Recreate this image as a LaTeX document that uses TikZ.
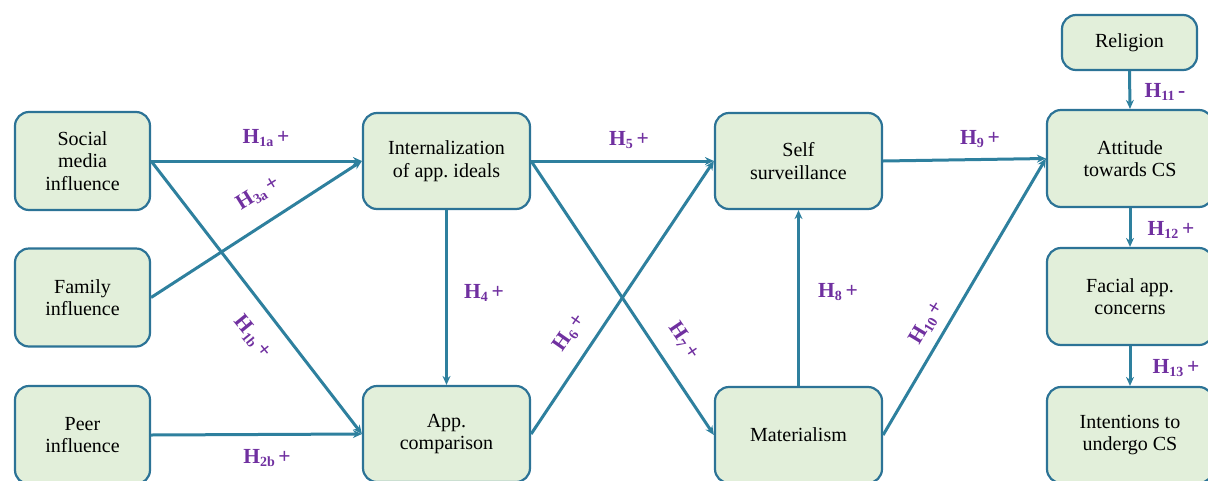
\documentclass[tikz,border=0pt]{standalone}
\usepackage{fontspec}
\setmainfont{Liberation Serif}
\usetikzlibrary{arrows.meta}
\frenchspacing
\definecolor{boxfill}{RGB}{226,239,218}
\definecolor{boxline}{RGB}{44,115,150}
\definecolor{arrowcol}{RGB}{46,128,158}
\definecolor{labcol}{RGB}{112,48,160}
\newcommand\hyp[2]{H\raisebox{-0.35ex}{\fontsize{14}{14}\selectfont #1}\,#2}
\tikzset{
  box/.style={draw=boxline, line width=2.2pt, fill=boxfill, rounded corners=14pt,
    align=center, font=\fontsize{20}{22.5}\selectfont, inner sep=0pt},
  conn/.style={draw=arrowcol, line width=3pt, -{Stealth[length=9pt,width=8pt]}},
  hlab/.style={text=labcol, font=\fontsize{21.5}{22}\selectfont\bfseries, inner sep=1pt}
}
\begin{document}
\begin{tikzpicture}[x=1pt,y=-1pt]
\useasboundingbox (0,0) rectangle (1208,480);
\clip (0,0) rectangle (1208,480);
% nodes
\node[box, minimum width=135pt, minimum height=98pt] (soc) at (82.5,161) {Social\\media\\influence};
\node[box, minimum width=135pt, minimum height=98pt] (fam) at (82.5,297.5) {Family\\influence};
\node[box, minimum width=135pt, minimum height=98pt] (peer) at (82.5,435) {Peer\\influence};
\node[box, minimum width=167pt, minimum height=96pt] (int) at (446.5,161) {Internalization\\of app. ideals};
\node[box, minimum width=167pt, minimum height=96pt] (app) at (446.5,434) {App.\\comparison};
\node[box, minimum width=167pt, minimum height=96pt] (self) at (798.5,161) {Self\\surveillance};
\node[box, minimum width=167pt, minimum height=96pt] (mat) at (798.5,435) {Materialism};
\node[box, minimum width=135pt, minimum height=55pt] (rel) at (1129.5,42.5) {Religion};
\node[box, minimum width=166pt, minimum height=97pt] (att) at (1130,158.5) {Attitude\\towards CS};
\node[box, minimum width=166pt, minimum height=97pt] (fac) at (1130,296.5) {Facial app.\\concerns};
\node[box, minimum width=166pt, minimum height=96pt] (intn) at (1130,435) {Intentions to\\undergo CS};
% connectors
\draw[conn] (soc.east) -- (int.west);
\draw[conn] (soc.east) -- (app.west);
\draw[conn] (fam.east) -- (int.west);
\draw[conn] (peer.east) -- (app.west);
\draw[conn] (int.south) -- (app.north);
\draw[conn] (int.east) -- (self.west);
\draw[conn] (int.east) -- (mat.west);
\draw[conn] (app.east) -- (self.west);
\draw[conn] (mat.north) -- (self.south);
\draw[conn] (self.east) -- (att.west);
\draw[conn] (mat.east) -- (att.west);
\draw[conn] (rel.south) -- (att.north);
\draw[conn] (att.south) -- (fac.north);
\draw[conn] (fac.south) -- (intn.north);
% labels
\node[hlab] (l1a) at (266,138) {\hyp{1a}{+}};
\node[hlab, rotate=32] (l3a) at (258,194) {\hyp{3a}{+}};
\node[hlab, rotate=-51] (l1b) at (252,337) {\hyp{1b}{+}};
\node[hlab] (l2b) at (267,458) {\hyp{2b}{+}};
\node[hlab] (l4) at (484,293) {\hyp{4}{+}};
\node[hlab] (l5) at (629,140) {\hyp{5}{+}};
\node[hlab, rotate=55] (l6) at (570,333) {\hyp{6}{+}};
\node[hlab, rotate=-56] (l7) at (684,341) {\hyp{7}{+}};
\node[hlab] (l8) at (838,292) {\hyp{8}{+}};
\node[hlab] (l9) at (980,139) {\hyp{9}{+}};
\node[hlab, rotate=59] (l10) at (927,323) {\hyp{10}{+}};
\node[hlab] (l11) at (1165,92) {\hyp{11}{-}};
\node[hlab] (l12) at (1171,230) {\hyp{12}{+}};
\node[hlab] (l13) at (1176,368) {\hyp{13}{+}};
\end{tikzpicture}
\end{document}
